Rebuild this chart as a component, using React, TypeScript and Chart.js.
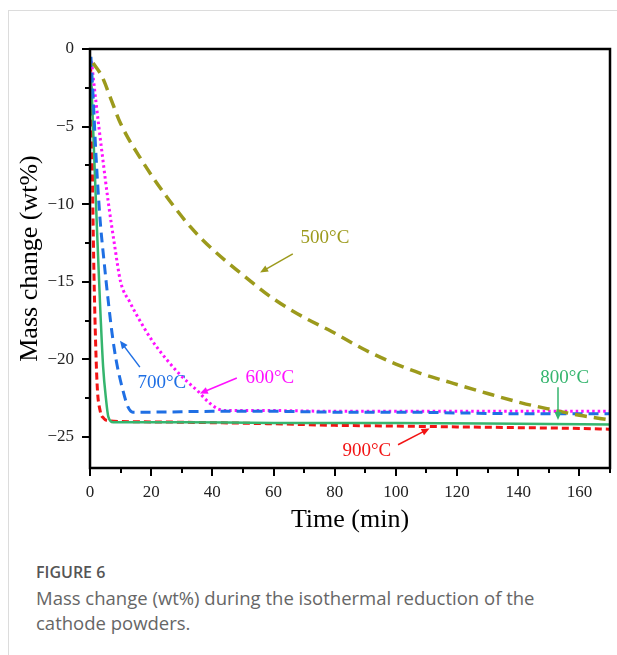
import React, { useEffect, useRef } from "react";
import { Chart, registerables } from "chart.js";

Chart.register(...registerables);

// ---- Data (time in min, mass change in wt%) ----
const t500 = [1, 4, 6.6, 10, 17, 25, 33, 40, 49, 60, 70, 79, 90, 100, 108, 118, 130, 141, 150, 160, 170];
const m500 = [-0.9, -1.8, -3.1, -4.8, -7.2, -9.5, -11.5, -12.9, -14.4, -16.1, -17.3, -18.2, -19.4, -20.3, -20.9, -21.5, -22.2, -22.8, -23.2, -23.6, -23.9];

const t600 = [0.5, 2, 4, 6, 8, 10, 13, 16, 20, 25, 30, 35, 39, 42, 45, 60, 80, 100, 120, 140, 160, 170];
const m600 = [-0.8, -3.5, -6.8, -9.9, -12.6, -15, -16.3, -17.4, -18.7, -20, -21.1, -22, -22.8, -23.2, -23.3, -23.3, -23.35, -23.35, -23.35, -23.35, -23.35, -23.35];

const t700 = [0.3, 1, 2, 3.3, 4.5, 6, 7.2, 8.5, 10.5, 12.5, 14, 20, 40, 60, 80, 100, 120, 140, 160, 170];
const m700 = [-0.5, -3, -7, -11, -13.5, -16.3, -18.3, -20, -21.8, -23.1, -23.4, -23.4, -23.35, -23.35, -23.4, -23.4, -23.45, -23.5, -23.5, -23.5];

const t800 = [0.3, 1, 2.3, 3.3, 4.3, 5.2, 6, 7.6, 10, 30, 60, 100, 140, 170];
const m800 = [-1.5, -5, -11.7, -16.5, -20.5, -22.5, -23.7, -24.05, -24.05, -24.05, -24.1, -24.1, -24.15, -24.2];

const t900 = [0.2, 0.6, 1.0, 1.4, 2.3, 3.3, 4.5, 6, 10, 30, 60, 80, 100, 120, 140, 160, 170];
const m900 = [-1, -5, -11, -15.5, -21.5, -23.3, -23.8, -23.95, -24.0, -24.05, -24.15, -24.25, -24.3, -24.35, -24.4, -24.45, -24.5];

const xMajorTicks = [0, 20, 40, 60, 80, 100, 120, 140, 160];
const xMinorTicks = [10, 30, 50, 70, 90, 110, 130, 150, 170];
const yMajorTicks = [-25, -20, -15, -10, -5, 0];
const yMinorTicks = [-22.5, -17.5, -12.5, -7.5, -2.5];

const seriesLabels = ["500°C", "600°C", "700°C", "800°C", "900°C"];

const C500 = "#9c9a1c";
const C600 = "#ff10ff";
const C700 = "#1f6fe4";
const C800 = "#35b56e";
const C900 = "#f21414";

// annotation text + arrow in data coordinates
const annotations = [
  { text: seriesLabels[0], color: C500, tx: 76.8, ty: -12.2, x1: 66.3, y1: -13.2, x2: 55.6, y2: -14.4 },
  { text: seriesLabels[1], color: C600, tx: 58.8, ty: -21.2, x1: 48, y1: -21.2, x2: 35.9, y2: -22.2 },
  { text: seriesLabels[2], color: C700, tx: 23.5, ty: -21.5, x1: 16.3, y1: -20.5, x2: 9.8, y2: -18.8 },
  { text: seriesLabels[3], color: C800, tx: 155.2, ty: -21.2, x1: 153, y1: -21.8, x2: 153, y2: -23.9 },
  { text: seriesLabels[4], color: C900, tx: 90.5, ty: -25.9, x1: 100.7, y1: -25.5, x2: 111, y2: -24.45 },
];

const pts = (t: number[], m: number[]) => t.map((x, i) => ({ x, y: m[i] }));

const framePlugin = {
  id: "frameAndAnnotations",
  afterDraw(chart: any) {
    const { ctx, chartArea } = chart;
    const xs = chart.scales.x;
    const ys = chart.scales.y;
    ctx.save();
    ctx.strokeStyle = "#000";
    ctx.lineWidth = 2.5;
    ctx.strokeRect(chartArea.left, chartArea.top, chartArea.right - chartArea.left, chartArea.bottom - chartArea.top);
    ctx.lineWidth = 2;
    ctx.beginPath();
    yMajorTicks.forEach((v) => {
      const p = Math.round(ys.getPixelForValue(v));
      ctx.moveTo(chartArea.left, p);
      ctx.lineTo(chartArea.left - 8, p);
    });
    yMinorTicks.forEach((v) => {
      const p = Math.round(ys.getPixelForValue(v));
      ctx.moveTo(chartArea.left, p);
      ctx.lineTo(chartArea.left - 5, p);
    });
    xMajorTicks.forEach((v) => {
      const p = Math.round(xs.getPixelForValue(v));
      ctx.moveTo(p, chartArea.bottom);
      ctx.lineTo(p, chartArea.bottom + 8);
    });
    xMinorTicks.forEach((v) => {
      const p = Math.round(xs.getPixelForValue(v));
      ctx.moveTo(p, chartArea.bottom);
      ctx.lineTo(p, chartArea.bottom + 5);
    });
    ctx.stroke();

    // annotations
    annotations.forEach((a) => {
      const x1 = xs.getPixelForValue(a.x1);
      const y1 = ys.getPixelForValue(a.y1);
      const x2 = xs.getPixelForValue(a.x2);
      const y2 = ys.getPixelForValue(a.y2);
      const ang = Math.atan2(y2 - y1, x2 - x1);
      const hl = 8;
      const hw = 3.5;
      ctx.strokeStyle = a.color;
      ctx.fillStyle = a.color;
      ctx.lineWidth = 1.5;
      ctx.beginPath();
      ctx.moveTo(x1, y1);
      ctx.lineTo(x2 - Math.cos(ang) * hl * 0.8, y2 - Math.sin(ang) * hl * 0.8);
      ctx.stroke();
      ctx.beginPath();
      ctx.moveTo(x2, y2);
      ctx.lineTo(x2 - Math.cos(ang) * hl - Math.sin(ang) * hw, y2 - Math.sin(ang) * hl + Math.cos(ang) * hw);
      ctx.lineTo(x2 - Math.cos(ang) * hl + Math.sin(ang) * hw, y2 - Math.sin(ang) * hl - Math.cos(ang) * hw);
      ctx.closePath();
      ctx.fill();
      ctx.font = "19px 'Liberation Serif', 'Times New Roman', serif";
      ctx.textAlign = "center";
      ctx.textBaseline = "middle";
      ctx.fillText(a.text, xs.getPixelForValue(a.tx), ys.getPixelForValue(a.ty));
    });
    ctx.restore();
  },
};

export default function App() {
  const ref = useRef<HTMLCanvasElement | null>(null);
  useEffect(() => {
    if (!ref.current) return;
    const serif = "'Liberation Serif', 'Times New Roman', serif";
    const chart = new Chart(ref.current, {
      type: "line",
      data: {
        datasets: [
          { label: seriesLabels[0], data: pts(t500, m500), borderColor: C500, borderWidth: 3.5, borderDash: [12, 7] },
          { label: seriesLabels[2], data: pts(t700, m700), borderColor: C700, borderWidth: 3, borderDash: [10, 6] },
          { label: seriesLabels[1], data: pts(t600, m600), borderColor: C600, borderWidth: 3, borderDash: [2.5, 3] },
          { label: seriesLabels[3], data: pts(t800, m800), borderColor: C800, borderWidth: 2.5 },
          { label: seriesLabels[4], data: pts(t900, m900), borderColor: C900, borderWidth: 3, borderDash: [7, 4] },
        ].map((d) => ({ ...d, pointRadius: 0, fill: false, cubicInterpolationMode: "monotone" as const })),
      },
      options: {
        animation: false,
        responsive: false,
        events: [],
        layout: { padding: { top: 49, right: 7, left: 0, bottom: 0 } },
        plugins: { legend: { display: false }, tooltip: { enabled: false } },
        scales: {
          x: {
            type: "linear",
            min: 0,
            max: 170,
            grid: { display: false, drawTicks: false },
            border: { display: false },
            afterFit: (s: any) => { s.height = 72; },
            afterBuildTicks: (s: any) => { s.ticks = xMajorTicks.map((v) => ({ value: v })); },
            ticks: { color: "#222", font: { family: serif, size: 17 }, padding: 14, maxRotation: 0, autoSkip: false },
            title: { display: true, text: "Time (min)", color: "#000", font: { family: serif, size: 26 }, padding: { top: 0, bottom: 4 } },
          },
          y: {
            type: "linear",
            min: -27,
            max: 0,
            grid: { display: false, drawTicks: false },
            border: { display: false },
            afterFit: (s: any) => { s.width = 90; },
            afterBuildTicks: (s: any) => { s.ticks = yMajorTicks.map((v) => ({ value: v })); },
            ticks: {
              color: "#222",
              font: { family: serif, size: 17 },
              padding: 16,
              autoSkip: false,
              callback: (v: any) => (Number(v) < 0 ? "\u2212" + Math.abs(Number(v)) : String(v)),
            },
            title: { display: true, text: "Mass change (wt%)", color: "#000", font: { family: serif, size: 26 }, padding: { top: 15, bottom: 0 } },
          },
        },
      },
      plugins: [framePlugin],
    });
    return () => chart.destroy();
  }, []);

  return (
    <div style={{ position: "absolute", left: 0, top: 0, width: 617, height: 655, background: "#fff", overflow: "hidden" }}>
      <div style={{ position: "absolute", left: 8, top: 10, width: 620, height: 660, borderTop: "1px solid #dcdcdc", borderLeft: "1px solid #dcdcdc" }} />
      <canvas ref={ref} width={617} height={540} style={{ position: "absolute", left: 0, top: 0, width: 617, height: 540 }} />
      <div style={{ position: "absolute", left: 36, top: 560, fontFamily: "'Open Sans', sans-serif", lineHeight: "25px" }}>
        <div style={{ fontSize: 16, fontWeight: 600, color: "#555" }}>FIGURE 6</div>
        <div style={{ fontSize: 18.5, color: "#666" }}>
          Mass change (wt%) during the isothermal reduction of the
          <br />
          cathode powders.
        </div>
      </div>
    </div>
  );
}
